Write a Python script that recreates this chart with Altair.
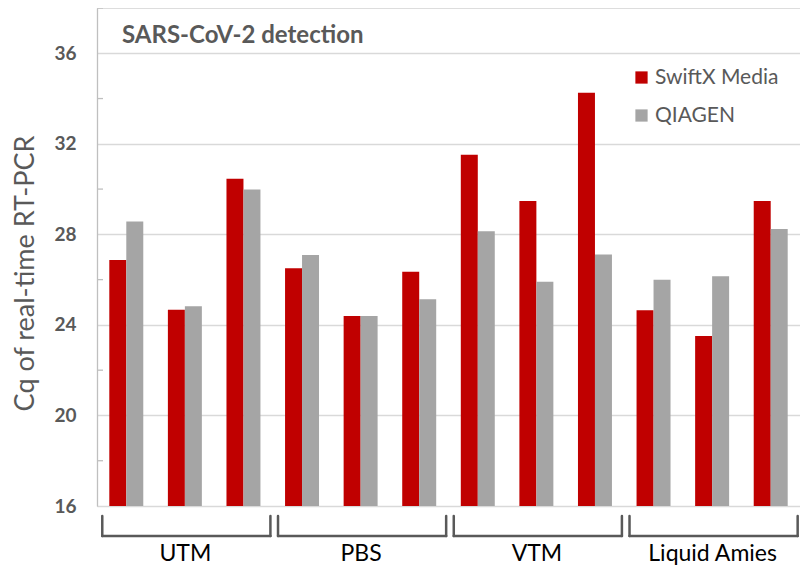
import altair as alt
import pandas as pd

# ---- data ----
categories = ["UTM", "PBS", "VTM", "Liquid Amies"]
series = ["SwiftX Media", "QIAGEN"]
swiftx = [26.87, 24.67, 30.46, 26.50, 24.39, 26.35, 31.52, 29.47, 34.26, 24.65, 23.51, 29.47]
qiagen = [28.57, 24.82, 29.98, 27.09, 24.39, 25.13, 28.14, 25.91, 27.11, 26.00, 26.15, 28.24]
major_ticks = [16, 20, 24, 28, 32, 36]
minor_ticks = [18, 22, 26, 30, 34, 38]

per_cat = 3
samples = [f"{c} {k + 1}" for c in categories for k in range(per_cat)]

rows = []
for i, s in enumerate(samples):
    rows.append({"sample": s, "series": series[0], "cq": swiftx[i]})
    rows.append({"sample": s, "series": series[1], "cq": qiagen[i]})
bars_df = pd.DataFrame(rows)

# bracket decoration rows (in slot units of an independent x scale)
br = []
for i, c in enumerate(categories):
    br.append({"cat": c, "start": i * per_cat + 0.09, "end": i * per_cat + 2.96})
br_df = pd.DataFrame(br)
minor_df = pd.DataFrame({"v": minor_ticks})

W, H = 703, 498
GREY_TXT = "#595959"
ydom = [16, 38]

yscale = alt.Scale(domain=ydom, zero=False, nice=False)

bars = alt.Chart(bars_df).mark_bar().encode(
    x=alt.X("sample:N", sort=samples, axis=None,
            scale=alt.Scale(paddingInner=0.42, paddingOuter=0.21)),
    xOffset=alt.XOffset("series:N", sort=series,
                        scale=alt.Scale(paddingInner=0, paddingOuter=0)),
    y=alt.Y("cq:Q", scale=yscale,
            axis=alt.Axis(values=major_ticks, grid=True, gridColor="#D9D9D9", gridWidth=1.3,
                          ticks=False, tickSize=0, domainColor="#BFBFBF", domainWidth=1.3,
                          labelFont="Lato", labelFontSize=19, labelFontWeight="bold",
                          labelColor=GREY_TXT, labelPadding=21,
                          title="Cq of real-time RT-PCR", titleFont="Lato", titleFontSize=27,
                          titleFontWeight="normal", titleColor=GREY_TXT,
                          titleX=-64, titleY=265, titleAngle=270, titleAlign="center",
                          titleBaseline="alphabetic")),
    y2=alt.datum(16),
    color=alt.Color("series:N", sort=series,
                    scale=alt.Scale(domain=series, range=["#C00000", "#A5A5A5"]),
                    legend=alt.Legend(title=None, orient="none", legendX=534, legendY=59,
                                      symbolType="square", symbolSize=150, symbolStrokeWidth=0,
                                      labelFont="Lato", labelFontSize=21, labelColor=GREY_TXT,
                                      labelOffset=3, rowPadding=16, padding=0)),
)

minor = alt.Chart(minor_df).mark_rule(color="#BFBFBF", strokeWidth=1.3).encode(
    y=alt.Y("v:Q", scale=yscale),
    x=alt.value(0), x2=alt.value(6),
)

bx = alt.Scale(domain=[0, len(samples)], nice=False, zero=False)
label_expr = " : ".join(
    [f"datum.value == {i * per_cat + 1.5} ? '{c}'" for i, c in enumerate(categories)]
) + " : ''"
xaxis = alt.Axis(values=[i * per_cat + 1.5 for i in range(len(categories))],
                 labelExpr=label_expr, orient="bottom", domain=False, ticks=False, grid=False,
                 labelFont="Lato", labelFontSize=23, labelColor="#000000",
                 labelPadding=54, labelBaseline="alphabetic", title=None)

rule_style = dict(color=GREY_TXT, strokeWidth=2.5, strokeCap="round")
b_left = alt.Chart(br_df).mark_rule(**rule_style).encode(
    x=alt.X("start:Q", scale=bx, axis=xaxis),
    y=alt.value(H + 10), y2=alt.value(H + 30),
)
b_right = alt.Chart(br_df).mark_rule(**rule_style).encode(
    x=alt.X("end:Q", scale=bx, axis=xaxis),
    y=alt.value(H + 10), y2=alt.value(H + 30),
)
b_bottom = alt.Chart(br_df).mark_rule(**rule_style).encode(
    x=alt.X("start:Q", scale=bx, axis=xaxis), x2="end:Q",
    y=alt.value(H + 30),
)
brackets = alt.layer(b_left, b_right, b_bottom)

chart = alt.layer(bars, minor, brackets).resolve_scale(x="independent").properties(
    width=W, height=H,
    title=alt.TitleParams("SARS-CoV-2 detection", anchor="start", frame="group",
                          font="Lato", fontSize=24, fontWeight="bold", color=GREY_TXT,
                          offset=0, baseline="alphabetic", dx=25, dy=60),
    autosize=alt.AutoSizeParams(type="none"),
    padding={"left": 89, "top": 0, "right": 0, "bottom": 60},
).configure_view(stroke=None).configure(font="Lato")

chart.save("out.html", embed_options={"renderer": "svg", "actions": False})
